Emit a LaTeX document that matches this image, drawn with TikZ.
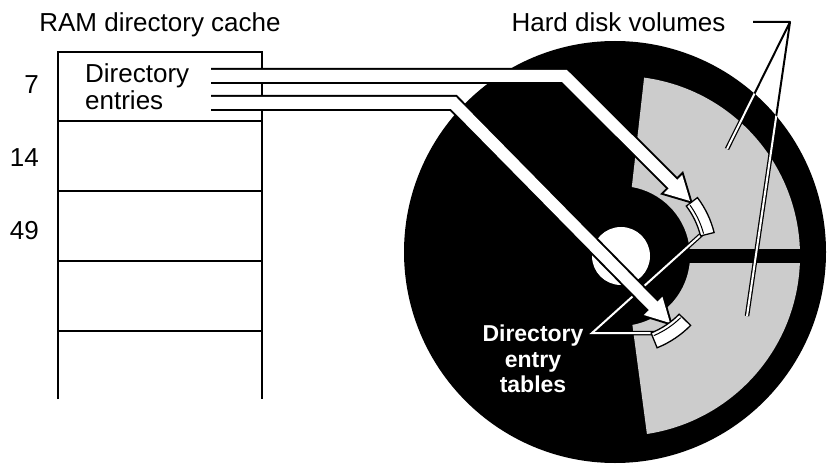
\documentclass[tikz,border=0pt]{standalone}
\usepackage{fontspec}
\setmainfont{Liberation Sans}
\usetikzlibrary{calc}
\definecolor{volgray}{RGB}{204,204,204}

% Fat white arrow with a black outline: #1 start, #2 bend, #3 tip
\newcommand{\fatarrow}[3]{%
  \coordinate (fa-h) at ($(#3)!24pt!(#2)$);
  \coordinate (fa-e) at ($(#3)!21pt!(#2)$);
  \coordinate (fa-l) at ($(fa-h)!13pt!90:(#3)$);
  \coordinate (fa-r) at ($(fa-h)!13pt!-90:(#3)$);
  \draw[line width=16pt, line join=miter] (#1) -- (#2) -- (fa-e);
  \filldraw[line width=4pt, line join=miter] (#3) -- (fa-l) -- (fa-r) -- cycle;
  \draw[white, line width=12pt, line join=miter] ($(#1)+(-2,0)$) -- (#2) -- (fa-e);
  \fill[white] (#3) -- (fa-l) -- (fa-r) -- cycle;
}

\begin{document}
\begin{tikzpicture}[x=1pt,y=1pt,
  txt/.style={font=\fontsize{26}{27}\selectfont, inner sep=0pt},
  tabletxt/.style={font=\fontsize{23}{25.5}\selectfont\bfseries, text=white, align=center, inner sep=0pt},
  frame/.style={line width=2pt},
  rowline/.style={line width=1.2pt},
  tablecard/.style={fill=white, draw=black, line width=1.3pt, line join=miter},
  pointer/.style={line width=2pt, line join=round},
]
\useasboundingbox (0,0) rectangle (832,464);

% ---- RAM directory cache ----
\draw[frame] (58,65) -- (58,412) -- (262,412) -- (262,65);
\foreach \y in {343,273,203,133} \draw[rowline] (58,\y) -- (262,\y);
\node[txt, anchor=base] (cachetitle) at (160,432) {RAM directory cache};
\node[txt, anchor=base east] (row7) at (39,370) {7};
\node[txt, anchor=base east] (row14) at (39,297) {14};
\node[txt, anchor=base east] (row49) at (39,225) {49};
\node[txt, anchor=west, align=left] (entries) at (85,377) {Directory\\entries};

% ---- Disk ----
\fill (615,212) circle[radius=211pt];
\begin{scope}[shift={(620,208)}]
  \fill[volgray] (82.3:180pt) arc[start angle=82.3, end angle=-81.4, radius=180pt]
    -- (-79.8:70pt) arc[start angle=-79.8, end angle=80.3, radius=70pt] -- cycle;
  \fill (0,-7) rectangle (195,7);
  \fill[white] (1,0) circle[radius=29pt];
\end{scope}

% ---- Hard disk volumes label and pointers ----
\node[txt, anchor=base] (hdv) at (618.5,432) {Hard disk volumes};
\coordinate (hdv-a) at (753,442);
\coordinate (hdv-j) at (790,442);
\coordinate (vol-up) at (727,315);
\coordinate (vol-low) at (747,148);
\draw[pointer] (hdv-a) -- (hdv-j) -- (vol-up);
\draw[pointer] (hdv-j) -- (vol-low);
\begin{scope}
  \clip (615,212) circle[radius=211pt];
  \draw[line width=4.5pt] (hdv-j) -- (vol-up) (hdv-j) -- (vol-low);
  \draw[white, line width=2pt] (hdv-j) -- (vol-up) (hdv-j) -- (vol-low);
\end{scope}

% ---- Directory entry tables label and pointers ----
\node[tabletxt] (tablbl) at (533,104.75) {Directory\\entry\\tables};
\coordinate (lbl-j) at (592,131);
\coordinate (tab-up-end) at (703,231);
\coordinate (tab-low-end) at (668,131);
\draw[line width=4.5pt, line join=miter] (tab-up-end) -- (lbl-j) -- (tab-low-end);
\draw[white, line width=2pt, line join=miter] (tab-up-end) -- (lbl-j) -- (tab-low-end);

% ---- Arrows from the cache entries to the disk tables ----
\coordinate (a1s) at (211,388);
\coordinate (a1b) at (564.5,388);
\coordinate (a1t) at (690,263);
\coordinate (a2s) at (211,361);
\coordinate (a2b) at (453.5,361);
\coordinate (a2t) at (670,141);
\fatarrow{a1s}{a1b}{a1t}
\fatarrow{a2s}{a2b}{a2t}

% ---- Directory entry tables on the volumes ----
\begin{scope}[shift={(620,208)}]
  \filldraw[tablecard] (14:83pt) arc[start angle=14, end angle=37, radius=83pt]
    -- (37:97pt) arc[start angle=37, end angle=14, radius=97pt] -- cycle;
  \draw[line width=1pt] (15:86.5pt) arc[start angle=15, end angle=36, radius=86.5pt];
  \filldraw[tablecard] (-68:83pt) arc[start angle=-68, end angle=-44.5, radius=83pt]
    -- (-44.5:99pt) arc[start angle=-44.5, end angle=-68, radius=99pt] -- cycle;
  \draw[line width=1pt] (-67:86.5pt) arc[start angle=-67, end angle=-45.5, radius=86.5pt];
\end{scope}
\end{tikzpicture}
\end{document}
